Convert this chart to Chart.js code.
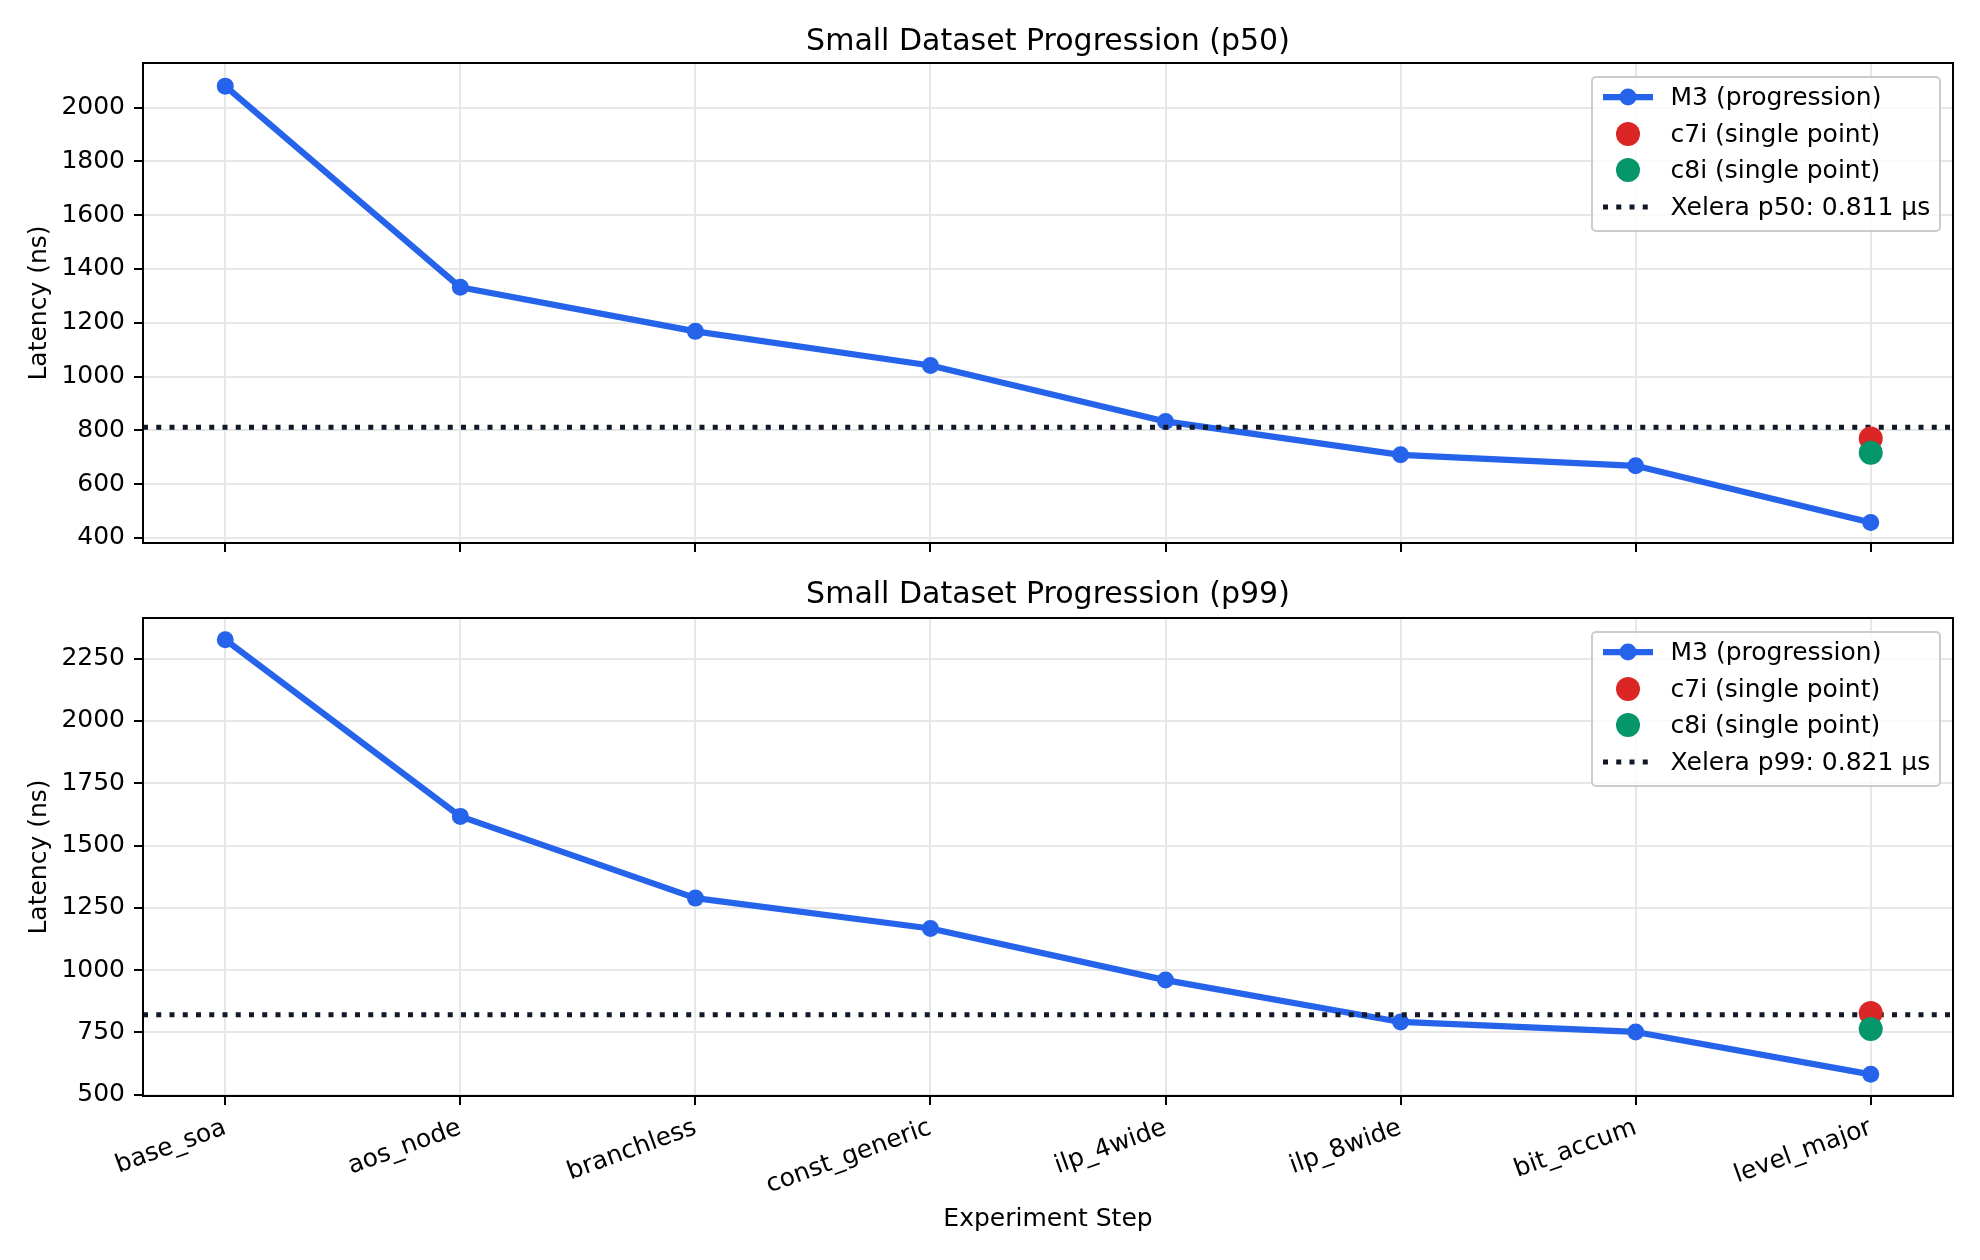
<!DOCTYPE html>
<html>
<head>
<meta charset="utf-8">
<script src="https://cdn.jsdelivr.net/npm/chart.js@4.4.0/dist/chart.umd.min.js"></script>
<style>
  html, body { margin: 0; padding: 0; background: #ffffff; }
  #wrap { position: relative; width: 1980px; height: 1260px; overflow: hidden; background: #fff; }
  canvas { position: absolute; left: 0; }
  .legend { position: absolute; box-sizing: border-box; border: 2.5px solid #cccccc; border-radius: 5px;
            background: rgba(255,255,255,0.8); font-family: 'DejaVu Sans', sans-serif; font-size: 25px; color: #000; }
  .legend .row { position: absolute; left: 0; height: 30px; width: 100%; }
  .legend .row svg { position: absolute; left: 8px; top: 0; }
  .legend .row span { position: absolute; left: 77.5px; top: 0; line-height: 30px; white-space: nowrap; }
</style>
</head>
<body>
<div id="wrap">
  <canvas id="c1" width="1980" height="610" style="top:0px;width:1980px;height:610px"></canvas>
  <canvas id="c2" width="1980" height="700" style="top:560px;width:1980px;height:700px"></canvas>
</div>
<script>
// ---------------- data ----------------
const steps = ['base_soa', 'aos_node', 'branchless', 'const_generic', 'ilp_4wide', 'ilp_8wide', 'bit_accum', 'level_major'];
const m3P50 = [2080, 1332, 1168, 1041, 833, 709, 668, 457];
const m3P99 = [2326, 1617, 1289, 1167, 960, 792, 752, 582];
const c7iP50 = [770];
const c8iP50 = [717];
const c7iP99 = [828];
const c8iP99 = [764];
const xeleraP50 = 811;   // ns
const xeleraP99 = 821;   // ns
const p50Ticks = [400, 600, 800, 1000, 1200, 1400, 1600, 1800, 2000];
const p99Ticks = [500, 750, 1000, 1250, 1500, 1750, 2000, 2250];
const p50Range = [381, 2166];
const p99Range = [495, 2413];
const xRange = [-0.35, 7.35];
const seriesNames = ['M3 (progression)', 'c7i (single point)', 'c8i (single point)'];
const titles = ['Small Dataset Progression (p50)', 'Small Dataset Progression (p99)'];
const yLabel = 'Latency (ns)';
const xLabel = 'Experiment Step';

// ---------------- style ----------------
const BLUE = '#2563eb', RED = '#dc2626', GREEN = '#059669', DARK = '#111827';
const FONT = 'DejaVu Sans';
const GRID = '#e7e7e7';

const framePlugin = {
  id: 'frame',
  afterDatasetsDraw(chart) {
    const { ctx, chartArea: a } = chart;
    ctx.save();
    ctx.strokeStyle = '#000';
    ctx.lineWidth = 2;
    ctx.strokeRect(a.left, a.top, a.right - a.left, a.bottom - a.top);
    ctx.restore();
  }
};

function buildChart(canvasId, opt) {
  const lastIdx = steps.indexOf('level_major');
  const H = document.getElementById(canvasId).height;
  return new Chart(document.getElementById(canvasId), {
    type: 'line',
    data: {
      datasets: [
        { label: seriesNames[2], type: 'scatter', data: opt.c8i.map(y => ({ x: lastIdx, y })),
          backgroundColor: GREEN, borderColor: GREEN, pointRadius: 12, pointBorderWidth: 0, order: 0 },
        { label: seriesNames[1], type: 'scatter', data: opt.c7i.map(y => ({ x: lastIdx, y })),
          backgroundColor: RED, borderColor: RED, pointRadius: 12, pointBorderWidth: 0, order: 1 },
        { label: opt.xeleraLabel, data: [{ x: xRange[0], y: opt.xelera }, { x: xRange[1], y: opt.xelera }],
          borderColor: DARK, borderWidth: 5, borderDash: [5, 8.25], borderCapStyle: 'butt',
          pointRadius: 0, order: 2 },
        { label: seriesNames[0], data: opt.m3.map((y, i) => ({ x: i, y })),
          borderColor: BLUE, backgroundColor: BLUE, borderWidth: 6.25, borderJoinStyle: 'round',
          pointRadius: 8.5, pointBorderWidth: 0, pointBackgroundColor: BLUE, tension: 0, order: 3 }
      ]
    },
    options: {
      responsive: false,
      animation: false,
      events: [],
      layout: { padding: { left: 0, right: 27, top: 0, bottom: 0 } },
      plugins: {
        legend: { display: false },
        tooltip: { enabled: false },
        title: { display: true, fullSize: false, text: opt.title, color: '#000',
                 font: { family: FONT, size: 30, weight: 'normal' },
                 padding: { top: opt.titlePadTop, bottom: opt.titlePadBottom } }
      },
      scales: {
        x: {
          type: 'linear', min: xRange[0], max: xRange[1],
          afterBuildTicks: s => { s.ticks = steps.map((_, i) => ({ value: i })); },
          afterFit: s => { s.height = H - opt.areaBottom; },
          grid: { color: GRID, lineWidth: 2, tickColor: '#000', tickWidth: 2, tickLength: 9, drawTicks: true },
          border: { display: false },
          ticks: { display: opt.showX, autoSkip: false, minRotation: 20, maxRotation: 20, padding: 8,
                   color: '#000', font: { family: FONT, size: 25 },
                   callback: v => steps[v] },
          title: { display: opt.showX, text: xLabel, color: '#000', font: { family: FONT, size: 25 },
                   padding: { top: 0, bottom: 25.5 } }
        },
        y: {
          type: 'linear', min: opt.range[0], max: opt.range[1],
          afterBuildTicks: s => { s.ticks = opt.ticks.map(v => ({ value: v })); },
          afterFit: s => { s.width = 143; },
          grid: { color: GRID, lineWidth: 2, tickColor: '#000', tickWidth: 2, tickLength: 9 },
          border: { display: false },
          ticks: { padding: 9, color: '#000', font: { family: FONT, size: 25 }, callback: v => String(v) },
          title: { display: true, text: yLabel, color: '#000', font: { family: FONT, size: 25 },
                   padding: { top: 24, bottom: 0 } }
        }
      }
    },
    plugins: [framePlugin]
  });
}

buildChart('c1', { m3: m3P50, c7i: c7iP50, c8i: c8iP50, xelera: xeleraP50, ticks: p50Ticks, range: p50Range,
  title: titles[0], titlePadTop: 24, titlePadBottom: 3, areaBottom: 543, showX: false,
  xeleraLabel: 'Xelera p50: ' + (xeleraP50 / 1000).toFixed(3) + ' µs' });
buildChart('c2', { m3: m3P99, c7i: c7iP99, c8i: c8iP99, xelera: xeleraP99, ticks: p99Ticks, range: p99Range,
  title: titles[1], titlePadTop: 17, titlePadBottom: 5, areaBottom: 536, showX: true,
  xeleraLabel: 'Xelera p99: ' + (xeleraP99 / 1000).toFixed(3) + ' µs' });

// ---------------- HTML legends ----------------
function legend(top, xeleraLabel) {
  const box = document.createElement('div');
  box.className = 'legend';
  box.style.left = '1591px';
  box.style.top = top + 'px';
  box.style.width = '350px';
  box.style.height = '156px';
  const handles = [
    '<line x1="2" y1="15" x2="52" y2="15" stroke="' + BLUE + '" stroke-width="6.25"/><circle cx="27" cy="15" r="8.5" fill="' + BLUE + '"/>',
    '<circle cx="27" cy="15" r="12" fill="' + RED + '"/>',
    '<circle cx="27" cy="15" r="12" fill="' + GREEN + '"/>',
    '<line x1="2" y1="15" x2="52" y2="15" stroke="' + DARK + '" stroke-width="5" stroke-dasharray="5 8.25"/>'
  ];
  const labels = [seriesNames[0], seriesNames[1], seriesNames[2], xeleraLabel];
  labels.forEach((t, i) => {
    const row = document.createElement('div');
    row.className = 'row';
    row.style.top = (4.5 + i * 36.5) + 'px';
    row.innerHTML = '<svg width="56" height="30" viewBox="0 0 56 30">' + handles[i] + '</svg><span></span>';
    row.querySelector('span').textContent = t;
    box.appendChild(row);
  });
  document.getElementById('wrap').appendChild(box);
}
legend(75.5, 'Xelera p50: ' + (xeleraP50 / 1000).toFixed(3) + ' µs');
legend(630.5, 'Xelera p99: ' + (xeleraP99 / 1000).toFixed(3) + ' µs');
</script>
</body>
</html>
